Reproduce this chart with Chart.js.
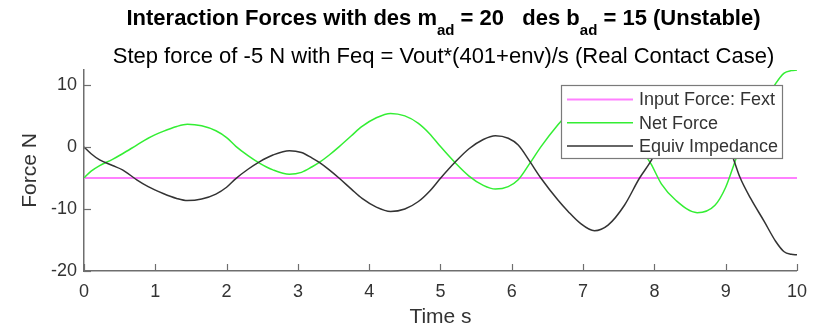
<!DOCTYPE html>
<html>
<head>
<meta charset="utf-8">
<title>Interaction Forces</title>
<script src="https://cdn.jsdelivr.net/npm/chart.js@4.4.0/dist/chart.umd.min.js"></script>
<style>
    html, body { margin: 0; padding: 0; background: #fff; }
    #wrap { width: 817px; height: 331px; }
</style>
</head>
<body>
<div id="wrap"><canvas id="forceChart" width="817" height="331"></canvas></div>
<script>
// Data
const timeS = [0, 0.1, 0.22, 0.4, 0.54, 0.74, 0.9, 1.11, 1.3, 1.45,
    1.65, 1.85, 2.0, 2.13, 2.3, 2.46, 2.65, 2.88, 3.05, 3.2,
    3.3, 3.44, 3.58, 3.75, 3.9, 4.1, 4.3, 4.5, 4.69, 4.85,
    5.0, 5.21, 5.4, 5.6, 5.77, 5.95, 6.09, 6.25, 6.41, 6.65,
    6.79, 6.95, 7.16, 7.35, 7.58, 7.79, 7.95, 8.1, 8.3, 8.6,
    8.85, 9.0, 9.12, 9.2, 9.35, 9.54, 9.7, 9.82, 9.92, 10];

const equivImpedance = [0, -1.1, -2.1, -3.0, -3.7, -5.3, -6.4, -7.5, -8.3, -8.65,
    -8.4, -7.6, -6.5, -5.1, -3.6, -2.4, -1.3, -0.6, -0.9, -1.8,
    -2.5, -3.7, -5.05, -6.8, -8.3, -9.7, -10.4, -10.0, -8.8, -7.1,
    -5.05, -2.4, -0.3, 1.2, 1.8, 1.4, 0.3, -2.3, -5.05, -8.6,
    -10.4, -12.2, -13.5, -12.6, -9.4, -5.05, -2.3, 1.0, 3.6, 5.6,
    4.4, 1.5, -2.3, -4.9, -8.3, -12.0, -15.2, -16.9, -17.3, -17.4];

const netForce = [-5, -3.9, -3.0, -2.0, -1.1, 0.3, 1.4, 2.5, 3.3, 3.65,
    3.4, 2.6, 1.5, 0.1, -1.4, -2.6, -3.7, -4.4, -4.1, -3.2,
    -2.5, -1.3, 0.05, 1.8, 3.3, 4.7, 5.4, 5.0, 3.8, 2.1,
    0.05, -2.6, -4.7, -6.2, -6.8, -6.4, -5.3, -2.7, 0.05, 3.6,
    5.4, 7.2, 8.5, 7.6, 4.4, 0.05, -2.7, -6.0, -8.6, -10.6,
    -9.4, -6.5, -2.7, -0.1, 3.3, 7.0, 10.2, 11.9, 12.3, 12.4];

const inputTime = [0, 10];
const inputForce = [-5, -5];

const xTicks = [0, 1, 2, 3, 4, 5, 6, 7, 8, 9, 10];
const yTicks = [-20, -10, 0, 10];

const seriesLabels = ['Input Force: Fext', 'Net Force', 'Equiv Impedance'];

const FONT = "'Liberation Sans', Arial, Helvetica, sans-serif";
const AXIS_COLOR = '#6e6e6e';
const TEXT_COLOR = '#333333';

function toPoints(xs, ys) {
    return xs.map((x, i) => ({ x: x, y: ys[i] }));
}

// Title with subscripts (MATLAB style), drawn above the axes
const titlePlugin = {
    id: 'matlabTitle',
    afterDraw(chart) {
        const ctx = chart.ctx;
        const cx = (chart.chartArea.left + chart.chartArea.right) / 2 + 3;
        const parts = [
            { t: 'Interaction Forces with des m', sub: false },
            { t: 'ad', sub: true },
            { t: ' = 20   des b', sub: false },
            { t: 'ad', sub: true },
            { t: ' = 15 (Unstable)', sub: false }
        ];
        ctx.save();
        ctx.fillStyle = '#000';
        ctx.textAlign = 'left';
        ctx.textBaseline = 'alphabetic';
        let total = 0;
        parts.forEach(p => {
            ctx.font = (p.sub ? 'bold 15px ' : 'bold 22px ') + FONT;
            p.w = ctx.measureText(p.t).width;
            total += p.w;
        });
        let x = cx - total / 2;
        parts.forEach(p => {
            ctx.font = (p.sub ? 'bold 15px ' : 'bold 22px ') + FONT;
            ctx.fillText(p.t, x, p.sub ? 35 : 25);
            x += p.w;
        });
        ctx.font = '22px ' + FONT;
        ctx.textAlign = 'center';
        ctx.fillText('Step force of -5 N with Feq = Vout*(401+env)/s (Real Contact Case)', cx, 63);
        ctx.restore();
    }
};

// Inward tick marks like MATLAB
const tickPlugin = {
    id: 'inwardTicks',
    afterDatasetsDraw(chart) {
        const { ctx, chartArea, scales } = chart;
        ctx.save();
        ctx.strokeStyle = AXIS_COLOR;
        ctx.lineWidth = 1.2;
        scales.x.ticks.forEach(t => {
            const px = Math.round(scales.x.getPixelForValue(t.value)) + 0.5;
            ctx.beginPath();
            ctx.moveTo(px, chartArea.bottom);
            ctx.lineTo(px, chartArea.bottom - 7);
            ctx.stroke();
        });
        scales.y.ticks.forEach(t => {
            const py = Math.round(scales.y.getPixelForValue(t.value)) + 0.5;
            ctx.beginPath();
            ctx.moveTo(chartArea.left, py);
            ctx.lineTo(chartArea.left + 7, py);
            ctx.stroke();
        });
        ctx.restore();
    }
};

// Opaque legend box in the upper right, drawn over the lines
const legendPlugin = {
    id: 'boxLegend',
    afterDatasetsDraw(chart) {
        const ctx = chart.ctx;
        const box = { x: 561.5, y: 85.5, w: 221, h: 73 };
        ctx.save();
        ctx.fillStyle = '#fff';
        ctx.fillRect(box.x, box.y, box.w, box.h);
        ctx.strokeStyle = '#7a7a7a';
        ctx.lineWidth = 1.2;
        ctx.strokeRect(box.x, box.y, box.w, box.h);
        ctx.font = '18px ' + FONT;
        ctx.textBaseline = 'middle';
        ctx.textAlign = 'left';
        chart.data.datasets.forEach((ds, i) => {
            const rowY = 99.5 + i * 23.3;
            ctx.strokeStyle = ds.borderColor;
            ctx.lineWidth = ds.borderWidth;
            ctx.beginPath();
            ctx.moveTo(567, rowY);
            ctx.lineTo(633, rowY);
            ctx.stroke();
            ctx.fillStyle = TEXT_COLOR;
            ctx.fillText(ds.label, 639, rowY + 1);
        });
        ctx.restore();
    }
};

const ctx = document.getElementById('forceChart').getContext('2d');
const forceChart = new Chart(ctx, {
    type: 'line',
    data: {
        datasets: [
            {
                label: seriesLabels[0],
                data: toPoints(inputTime, inputForce),
                borderColor: '#ff80ff',
                borderWidth: 2,
                order: 2
            },
            {
                label: seriesLabels[1],
                data: toPoints(timeS, netForce),
                borderColor: '#33ee33',
                borderWidth: 1.5,
                order: 1
            },
            {
                label: seriesLabels[2],
                data: toPoints(timeS, equivImpedance),
                borderColor: '#333333',
                borderWidth: 1.5,
                order: 0
            }
        ]
    },
    options: {
        responsive: false,
        animation: false,
        devicePixelRatio: 1,
        elements: {
            point: { radius: 0 },
            line: { cubicInterpolationMode: 'monotone' }
        },
        layout: {
            padding: { top: 70, right: 17, bottom: 0, left: 0 }
        },
        plugins: {
            legend: { display: false },
            title: { display: false },
            tooltip: { enabled: false }
        },
        scales: {
            x: {
                type: 'linear',
                position: 'bottom',
                min: 0,
                max: 10,
                grid: { display: false, drawTicks: false },
                border: { display: true, color: AXIS_COLOR, width: 1.5 },
                ticks: {
                    font: { family: FONT, size: 18 },
                    color: TEXT_COLOR,
                    padding: 10,
                    maxRotation: 0,
                    autoSkip: false
                },
                afterBuildTicks: scale => {
                    scale.ticks = xTicks.map(v => ({ value: v }));
                },
                afterFit: scale => {
                    scale.height = 60;
                },
                title: {
                    display: true,
                    text: 'Time s',
                    font: { family: FONT, size: 21 },
                    color: TEXT_COLOR,
                    padding: { top: 0, bottom: 1 }
                }
            },
            y: {
                type: 'linear',
                min: -20,
                max: 12.4,
                grid: { display: false, drawTicks: false },
                border: { display: true, color: AXIS_COLOR, width: 1.5 },
                ticks: {
                    font: { family: FONT, size: 18 },
                    color: TEXT_COLOR,
                    padding: 7
                },
                afterBuildTicks: scale => {
                    scale.ticks = yTicks.map(v => ({ value: v }));
                },
                afterFit: scale => {
                    scale.width = 84;
                },
                title: {
                    display: true,
                    text: 'Force N',
                    font: { family: FONT, size: 21 },
                    color: TEXT_COLOR,
                    padding: { top: 18, bottom: 0 }
                }
            }
        }
    },
    plugins: [titlePlugin, tickPlugin, legendPlugin]
});
</script>
</body>
</html>
